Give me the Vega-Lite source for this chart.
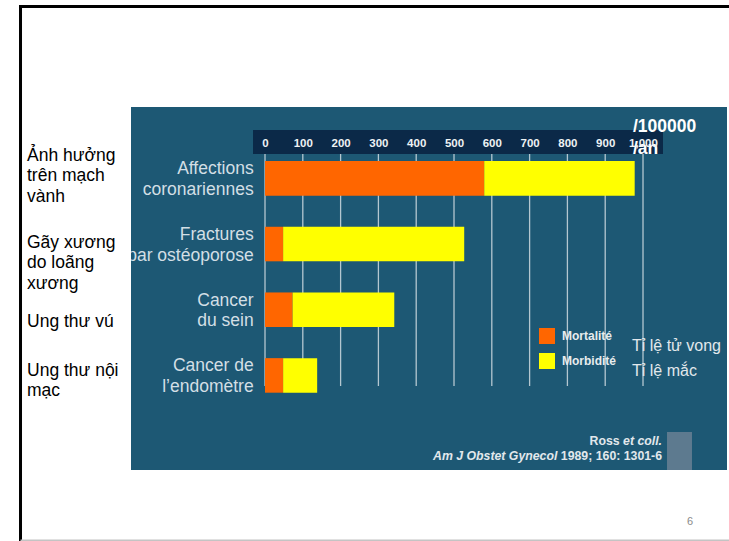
{
  "$schema": "https://vega.github.io/schema/vega-lite/v6.json",
  "width": 596,
  "height": 363,
  "autosize": "none",
  "padding": {"left": 131, "top": 107, "right": 2, "bottom": 71},
  "background": "#ffffff",
  "config": {
    "view": {"fill": "#1d5874", "stroke": null},
    "font": "Liberation Sans",
    "text": {"font": "Liberation Sans"}
  },
  "datasets": {
    "rates": [
      {"category": "Affections coronariennes", "type": "Mortalité", "value": 580},
      {"category": "Affections coronariennes", "type": "Morbidité", "value": 398},
      {"category": "Fractures par ostéoporose", "type": "Mortalité", "value": 48},
      {"category": "Fractures par ostéoporose", "type": "Morbidité", "value": 479},
      {"category": "Cancer du sein", "type": "Mortalité", "value": 73},
      {"category": "Cancer du sein", "type": "Morbidité", "value": 269},
      {"category": "Cancer de l’endomètre", "type": "Mortalité", "value": 48},
      {"category": "Cancer de l’endomètre", "type": "Morbidité", "value": 90}
    ],
    "labels": [
      {"category": "Affections coronariennes", "fr": "Affections\ncoronariennes", "vi": "Ảnh hưởng\ntrên mạch\nvành"},
      {"category": "Fractures par ostéoporose", "fr": "Fractures\npar ostéoporose", "vi": "Gãy xương\ndo loãng\nxương"},
      {"category": "Cancer du sein", "fr": "Cancer\ndu sein", "vi": "Ung thư vú"},
      {"category": "Cancer de l’endomètre", "fr": "Cancer de\nl’endomètre", "vi": "Ung thư nội\nmạc"}
    ],
    "ticks": [
      {"tick": 0}, {"tick": 100}, {"tick": 200}, {"tick": 300}, {"tick": 400}, {"tick": 500},
      {"tick": 600}, {"tick": 700}, {"tick": 800}, {"tick": 900}, {"tick": 1000}
    ]
  },
  "layer": [
    {
      "data": {"values": [{}]},
      "mark": {"type": "rule", "color": "#000000", "strokeWidth": 3},
      "encoding": {
        "x": {"datum": -646.8, "type": "quantitative"},
        "y": {"value": -102},
        "y2": {"value": 434}
      }
    },
    {
      "data": {"values": [{}]},
      "mark": {"type": "rule", "color": "#000000", "strokeWidth": 3},
      "encoding": {
        "x": {"datum": -650.8, "type": "quantitative"},
        "x2": {"datum": 1240},
        "y": {"value": -100.5}
      }
    },
    {
      "data": {"values": [{}]},
      "mark": {"type": "rule", "color": "#c4c4c4", "strokeWidth": 2},
      "encoding": {
        "x": {"datum": -646.8, "type": "quantitative"},
        "x2": {"datum": 1240},
        "y": {"value": 433.5}
      }
    },
    {
      "data": {"name": "ticks"},
      "mark": {"type": "rule", "color": "#cfdbe1", "strokeWidth": 1.3, "opacity": 0.85},
      "encoding": {
        "x": {"field": "tick", "type": "quantitative"},
        "y": {"value": 40},
        "y2": {"value": 279}
      }
    },
    {
      "data": {"values": [{}]},
      "mark": {"type": "rect", "color": "#0b2948"},
      "encoding": {
        "x": {"datum": -31.7, "type": "quantitative"},
        "x2": {"datum": 1052.9},
        "y": {"value": 23},
        "y2": {"value": 47}
      }
    },
    {
      "data": {"values": [{}]},
      "mark": {"type": "rect", "color": "#5d7a8f"},
      "encoding": {
        "x": {"datum": 1063.5, "type": "quantitative"},
        "x2": {"datum": 1129.6},
        "y": {"value": 325},
        "y2": {"value": 363}
      }
    },
    {
      "data": {"name": "rates"},
      "mark": {"type": "bar"},
      "encoding": {
        "y": {
          "field": "category",
          "type": "nominal",
          "scale": {
            "domain": ["Affections coronariennes", "Fractures par ostéoporose", "Cancer du sein", "Cancer de l’endomètre"],
            "paddingInner": 0.474,
            "paddingOuter": 1.0875,
            "align": 0.4116
          },
          "axis": null
        },
        "x": {
          "field": "value",
          "type": "quantitative",
          "stack": "zero",
          "scale": {"domain": [-354.5, 1222.2], "nice": false, "zero": false},
          "axis": {
            "orient": "top",
            "title": null,
            "values": [0, 100, 200, 300, 400, 500, 600, 700, 800, 900, 1000],
            "grid": false,
            "domain": false,
            "ticks": false,
            "tickSize": 0,
            "offset": -36,
            "labelPadding": 0,
            "labelBaseline": "middle",
            "labelFont": "Liberation Sans",
            "labelFontWeight": "bold",
            "labelFontSize": 11.5,
            "labelColor": "#eef2f4",
            "labelFlush": false,
            "labelOverlap": false,
            "zindex": 1
          }
        },
        "color": {
          "field": "type",
          "type": "nominal",
          "scale": {"domain": ["Mortalité", "Morbidité"], "range": ["#ff6600", "#ffff00"]},
          "legend": {
            "title": null,
            "orient": "none",
            "legendX": 408,
            "legendY": 221,
            "symbolType": "square",
            "symbolSize": 256,
            "symbolStrokeWidth": 0,
            "symbolOpacity": 1,
            "labelColor": "#e8ecee",
            "labelFont": "Liberation Sans",
            "labelFontWeight": "bold",
            "labelFontSize": 12,
            "labelOffset": 7,
            "rowPadding": 9,
            "padding": 0
          }
        },
        "order": {"field": "type", "sort": "descending"}
      }
    },
    {
      "data": {"name": "labels"},
      "mark": {"type": "text", "align": "right", "baseline": "middle", "dy": -9, "fontSize": 17.5, "lineHeight": 20.5, "lineBreak": "\n", "color": "#d3dfe5", "clip": true},
      "encoding": {
        "y": {"field": "category", "type": "nominal", "axis": null},
        "x": {"datum": -30, "type": "quantitative"},
        "text": {"field": "fr"}
      }
    },
    {
      "data": {"name": "labels"},
      "transform": [{"filter": {"field": "category", "equal": "Affections coronariennes"}}],
      "mark": {"type": "text", "align": "left", "baseline": "middle", "dy": -22.75, "fontSize": 17.5, "lineHeight": 20.5, "lineBreak": "\n", "color": "#000000"},
      "encoding": {
        "y": {"field": "category", "type": "nominal", "axis": null},
        "x": {"datum": -629.6, "type": "quantitative"},
        "text": {"field": "vi"}
      }
    },
    {
      "data": {"name": "labels"},
      "transform": [{"filter": {"field": "category", "equal": "Fractures par ostéoporose"}}],
      "mark": {"type": "text", "align": "left", "baseline": "middle", "dy": -1.4, "fontSize": 17.5, "lineHeight": 20.7, "lineBreak": "\n", "color": "#000000"},
      "encoding": {
        "y": {"field": "category", "type": "nominal", "axis": null},
        "x": {"datum": -629.6, "type": "quantitative"},
        "text": {"field": "vi"}
      }
    },
    {
      "data": {"name": "labels"},
      "transform": [{"filter": {"field": "category", "equal": "Cancer du sein"}}],
      "mark": {"type": "text", "align": "left", "baseline": "middle", "dy": 11.9, "fontSize": 17.5, "lineHeight": 20.5, "lineBreak": "\n", "color": "#000000"},
      "encoding": {
        "y": {"field": "category", "type": "nominal", "axis": null},
        "x": {"datum": -629.6, "type": "quantitative"},
        "text": {"field": "vi"}
      }
    },
    {
      "data": {"name": "labels"},
      "transform": [{"filter": {"field": "category", "equal": "Cancer de l’endomètre"}}],
      "mark": {"type": "text", "align": "left", "baseline": "middle", "dy": -4.8, "fontSize": 17.5, "lineHeight": 20.7, "lineBreak": "\n", "color": "#000000"},
      "encoding": {
        "y": {"field": "category", "type": "nominal", "axis": null},
        "x": {"datum": -629.6, "type": "quantitative"},
        "text": {"field": "vi"}
      }
    },
    {
      "data": {"values": [{}]},
      "mark": {"type": "text", "text": "/100000\n/an", "lineBreak": "\n", "lineHeight": 22, "align": "left", "baseline": "middle", "dy": -51.75, "fontSize": 17.5, "fontWeight": "bold", "color": "#ffffff"},
      "encoding": {
        "y": {"datum": "Affections coronariennes", "type": "nominal", "axis": null},
        "x": {"datum": 973.5, "type": "quantitative"}
      }
    },
    {
      "data": {"values": [{}]},
      "mark": {"type": "text", "text": "Tỉ lệ tử vong\nTỉ lệ mắc", "lineBreak": "\n", "lineHeight": 25, "align": "left", "baseline": "middle", "dy": -29.8, "fontSize": 16, "color": "#e2e8ec"},
      "encoding": {
        "y": {"datum": "Cancer de l’endomètre", "type": "nominal", "axis": null},
        "x": {"datum": 970.9, "type": "quantitative"}
      }
    },
    {
      "data": {"values": [{}]},
      "mark": {"type": "text", "text": "Ross", "align": "right", "baseline": "middle", "dy": 65.2, "fontSize": 12.3, "fontWeight": "bold", "color": "#e2e8ec"},
      "encoding": {
        "y": {"datum": "Cancer de l’endomètre", "type": "nominal", "axis": null},
        "x": {"datum": 938.1, "type": "quantitative"}
      }
    },
    {
      "data": {"values": [{}]},
      "mark": {"type": "text", "text": "et coll.", "align": "right", "baseline": "middle", "dy": 65.2, "fontSize": 12.3, "fontWeight": "bold", "fontStyle": "italic", "color": "#e2e8ec"},
      "encoding": {
        "y": {"datum": "Cancer de l’endomètre", "type": "nominal", "axis": null},
        "x": {"datum": 1050.3, "type": "quantitative"}
      }
    },
    {
      "data": {"values": [{}]},
      "mark": {"type": "text", "text": "Am J Obstet Gynecol", "align": "right", "baseline": "middle", "dy": 80.2, "fontSize": 12.3, "fontWeight": "bold", "fontStyle": "italic", "color": "#e2e8ec"},
      "encoding": {
        "y": {"datum": "Cancer de l’endomètre", "type": "nominal", "axis": null},
        "x": {"datum": 773.5, "type": "quantitative"}
      }
    },
    {
      "data": {"values": [{}]},
      "mark": {"type": "text", "text": "1989; 160: 1301-6", "align": "right", "baseline": "middle", "dy": 80.2, "fontSize": 12.3, "fontWeight": "bold", "color": "#e2e8ec"},
      "encoding": {
        "y": {"datum": "Cancer de l’endomètre", "type": "nominal", "axis": null},
        "x": {"datum": 1050.3, "type": "quantitative"}
      }
    },
    {
      "data": {"values": [{}]},
      "mark": {"type": "text", "text": "6", "align": "center", "baseline": "middle", "dy": 146.2, "fontSize": 11, "color": "#8a8a8a"},
      "encoding": {
        "y": {"datum": "Cancer de l’endomètre", "type": "nominal", "axis": null},
        "x": {"datum": 1124.3, "type": "quantitative"}
      }
    }
  ]
}
